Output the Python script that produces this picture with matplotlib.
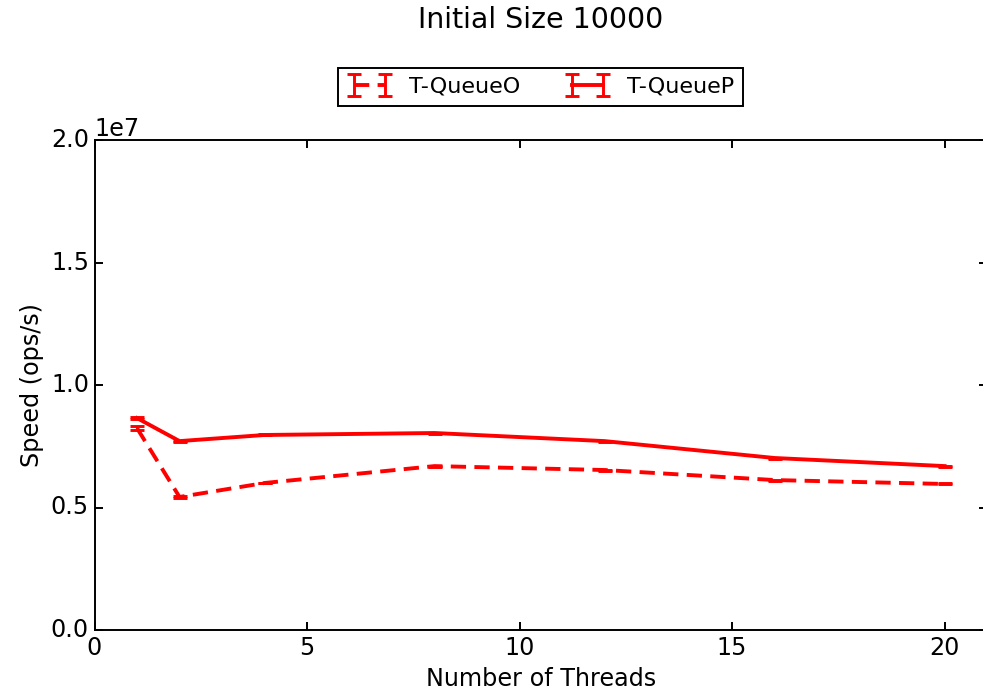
import matplotlib
matplotlib.use("Agg")
import matplotlib.pyplot as plt

plt.style.use('classic')
S = 1.4
FS = 17.2
plt.rcParams['font.size'] = FS

threads = [1, 2, 4, 8, 12, 16, 20]
queue_o = [8.24e6, 5.43e6, 6.00e6, 6.69e6, 6.53e6, 6.12e6, 5.96e6]
queue_o_err = [7e4, 4e4, 2e4, 2e4, 2e4, 2e4, 2e4]
queue_p = [8.65e6, 7.71e6, 7.96e6, 8.04e6, 7.71e6, 7.02e6, 6.69e6]
queue_p_err = [3e4, 2e4, 2e4, 2e4, 2e4, 2e4, 2e4]

fig = plt.figure(figsize=(9.83, 6.98), dpi=100, facecolor='white')
ax = fig.add_axes([94.5/983, 68/698, 892.6/983, 490/698])

ax.errorbar(threads, queue_o, yerr=queue_o_err, color='red', linestyle='--',
            dashes=(11, 6), linewidth=2*S, capsize=5, elinewidth=1.5*S,
            capthick=1.5*S, label='T-QueueO')
ax.errorbar(threads, queue_p, yerr=queue_p_err, color='red', linestyle='-',
            linewidth=2*S, capsize=5, elinewidth=1.5*S, capthick=1.5*S,
            label='T-QueueP')

ax.set_xlim(0, 21)
ax.set_ylim(0, 2e7)
ax.set_xticks([0, 5, 10, 15, 20])
ax.set_yticks([0, 0.5e7, 1.0e7, 1.5e7, 2.0e7])
ax.tick_params(labelsize=FS, length=4*S, width=1*S)
for sp in ax.spines.values():
    sp.set_linewidth(1.0*S)
ax.set_xlabel('Number of Threads', fontsize=FS)
ax.set_ylabel('Speed (ops/s)', fontsize=FS)
ax.yaxis.get_offset_text().set_fontsize(FS)

fig.text(541/983, 1 - 20/698, 'Initial Size 10000', ha='center', va='center', fontsize=20.5)
leg = ax.legend(loc='lower center', bbox_to_anchor=(0.5, 1.07), ncol=2,
                fontsize=16, numpoints=2, frameon=True, borderaxespad=0)
leg.get_frame().set_linewidth(1.0*S)

fig.savefig('out.png', dpi=100, facecolor='white')
